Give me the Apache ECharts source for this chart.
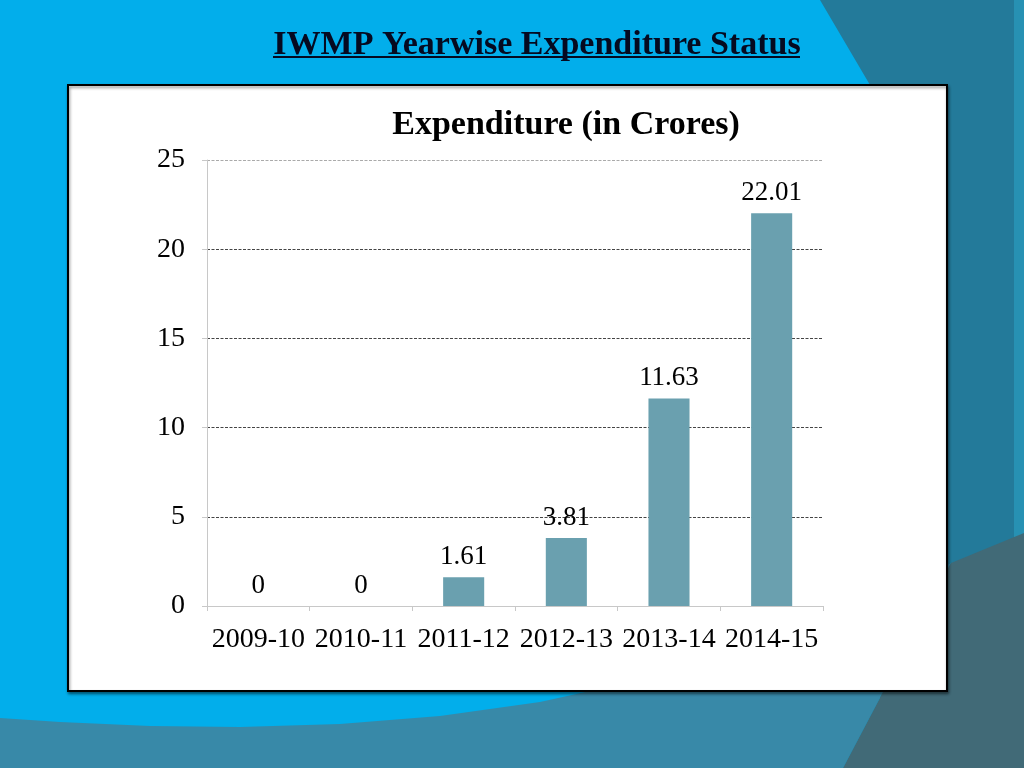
<!DOCTYPE html>
<html><head><meta charset="utf-8">
<script src="https://cdn.jsdelivr.net/npm/echarts@6/dist/echarts.min.js"></script>
<style>html,body{margin:0;padding:0;background:#02AEEB;}#c{width:1024px;height:768px;}</style>
</head><body><div id="c"></div>
<script>
const categories = ['2009-10','2010-11','2011-12','2012-13','2013-14','2014-15'];
const expenditure = [0, 0, 1.61, 3.81, 11.63, 22.01];
const yTicks = [0, 5, 10, 15, 20, 25];

const serif = '"Liberation Serif","Times New Roman",serif';
const chart = echarts.init(document.getElementById('c'), null, {renderer:'canvas'});
chart.setOption({
  backgroundColor: '#02AEEB',
  animation: false,
  graphic: [
    {type:'polygon', z:-10, shape:{points:[[820,0],[1024,0],[1024,768],[880,768],[880,85],[870,85]]}, style:{fill:'#237A9A'}},
    {type:'rect', z:-9, shape:{x:1014,y:0,width:10,height:540}, style:{fill:'#2791B3'}},
    {type:'polygon', z:-8, shape:{points:[[0,718],[60,722],[150,726],[240,727],[340,724],[440,716],[540,702],[640,680],[760,640],[900,590],[951,563],[843,768],[0,768]]}, style:{fill:'#3889A8'}},
    {type:'polygon', z:-7, shape:{points:[[843,768],[951,563],[1024,533],[1024,768]]}, style:{fill:'#416A77'}},
    {type:'rect', z:-5, shape:{x:68,y:85,width:879,height:606}, style:{fill:'#ffffff', stroke:'#000', lineWidth:2, shadowBlur:3, shadowOffsetX:1, shadowOffsetY:2, shadowColor:'rgba(0,0,0,0.45)'}},
    {type:'line', z:5, shape:{x1:273,y1:57,x2:800,y2:57}, style:{stroke:'#050a20', lineWidth:2}}
  ],
  title: [
    {text:'IWMP Yearwise Expenditure Status', left:532, textAlign:'center', top:21,
     textStyle:{fontFamily:serif, fontWeight:'bold', fontSize:34, color:'#050a20', lineHeight:38}},
    {text:'Expenditure (in Crores)', left:561, textAlign:'center', top:101,
     textStyle:{fontFamily:serif, fontWeight:'bold', fontSize:34, color:'#000', lineHeight:38}}
  ],
  grid: {left:207, right:201, top:160, bottom:162, containLabel:false},
  xAxis: {
    type:'category', data:categories,
    axisLine:{lineStyle:{color:'#c8c8c8', width:1}},
    axisTick:{show:true, length:5, alignWithLabel:false, lineStyle:{color:'#c8c8c8'}},
    axisLabel:{fontFamily:serif, fontSize:28, color:'#000', margin:20, interval:0}
  },
  yAxis: {
    type:'value', min:0, max:25, interval:5,
    axisLine:{show:true, lineStyle:{color:'#c8c8c8', width:1}},
    axisTick:{show:true, length:5, lineStyle:{color:'#c8c8c8'}},
    axisLabel:{fontFamily:serif, fontSize:28, color:'#000', margin:22,
      formatter: v => yTicks.includes(v) ? String(v) : ''},
    splitLine:{show:true, lineStyle:{color:['#c8c8c8','#444','#444','#444','#444','#aaa'], type:[3,1.5], width:1}}
  },
  series: [{
    type:'bar', data:expenditure, barWidth:'40%',
    itemStyle:{color:'#6AA0AF'},
    label:{show:true, position:'top', distance:7, fontFamily:serif, fontSize:27, color:'#000'}
  }]
});
</script></body></html>
